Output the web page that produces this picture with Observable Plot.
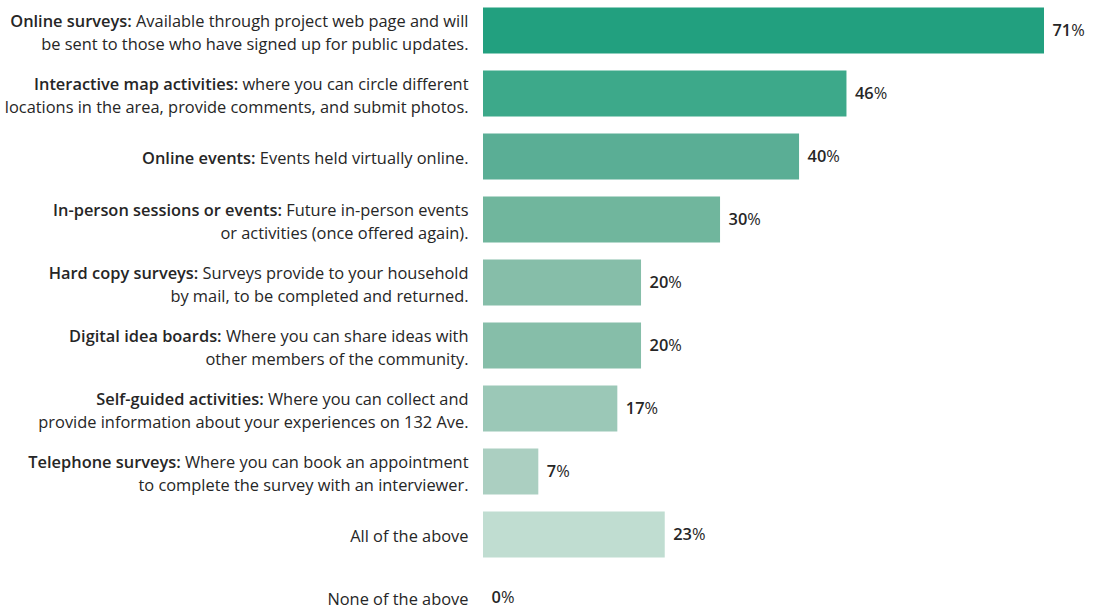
<!DOCTYPE html>
<html><head><meta charset="utf-8">
<script src="https://cdn.jsdelivr.net/npm/d3@7"></script>
<script src="https://cdn.jsdelivr.net/npm/@observablehq/plot@0.6"></script>
<style>body{margin:0;background:#fff;overflow:hidden}</style>
</head><body><div id="chart"></div>
<script>
const boldLabels = ["Online surveys:", "Interactive map activities:", "Online events:", "In-person sessions or events:", "Hard copy surveys:", "Digital idea boards:", "Self-guided activities:", "Telephone surveys:", "", ""];
const line1Text = [" Available through project web page and will", " where you can circle different", " Events held virtually online.", " Future in-person events", " Surveys provide to your household", " Where you can share ideas with", " Where you can collect and", " Where you can book an appointment", "All of the above", "None of the above"];
const line2Text = ["be sent to those who have signed up for public updates.", "locations in the area, provide comments, and submit photos.", "", "or activities (once offered again).", "by mail, to be completed and returned.", "other members of the community.", "provide information about your experiences on 132 Ave.", "to complete the survey with an interviewer.", "", ""];
const values = [71, 46, 40, 30, 20, 20, 17, 7, 23, 0];
const barColors = ["#22a07f", "#3da98a", "#5aae95", "#70b69d", "#86bea9", "#86bea9", "#9bc8b7", "#abcfc1", "#c0ddd1", "#d5e9e0"];

const categories = boldLabels.map((b, i) => b + line1Text[i]);
const rows = categories.map((c, i) => ({
  cat: c,
  value: values[i],
  label: c + (line2Text[i] ? "\n" + line2Text[i] : "")
}));

const chart = Plot.plot({
  width: 1098,
  height: 609,
  marginLeft: 483,
  marginRight: 54,
  marginTop: 0,
  marginBottom: 0,
  x: {domain: [0, 71], axis: null},
  y: {domain: categories, range: [-1.6, 629.7], padding: 0, axis: null},
  color: {domain: categories, range: barColors},
  style: {fontFamily: "'Open Sans', sans-serif", fontSize: "16.4px", color: "#222", background: "#fff"},
  marks: [
    Plot.barX(rows, {x: "value", y: "cat", fill: "cat", insetTop: 8.5, insetBottom: 8.5}),
    Plot.text(rows, {y: "cat", text: "label", frameAnchor: "left", textAnchor: "end", dx: -15,
      lineHeight: 1.42, fontSize: 16.4, fill: "#262626"}),
    Plot.text(rows, {x: "value", y: "cat", text: d => d.value + "%", textAnchor: "start", dx: 8,
      fontSize: 16.4, fill: "#262626"})
  ]
});
document.getElementById("chart").appendChild(chart);

const texts = Array.from(chart.querySelectorAll("text"));
texts.forEach(t => {
  const full = t.textContent;
  const vm = full.match(/^(\d+)%$/);
  if (vm) {
    t.textContent = "";
    d3.select(t).append("tspan").attr("font-weight", 600).text(vm[1]);
    t.appendChild(document.createTextNode("%"));
    return;
  }
  const i = boldLabels.findIndex((b, k) => b && full.startsWith(categories[k]));
  if (i < 0) return;
  const b = boldLabels[i];
  const first = t.querySelector("tspan") || t;
  const rest = first.textContent.slice(b.length);
  first.textContent = "";
  d3.select(first).append("tspan").attr("font-weight", 600).text(b);
  first.appendChild(document.createTextNode(rest));
});
</script>
</body></html>
